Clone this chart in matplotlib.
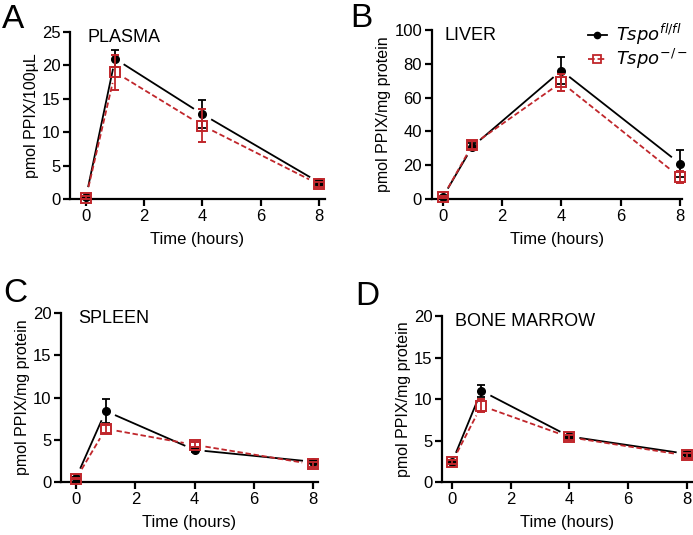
import numpy as np
import matplotlib.pyplot as plt

# time points (hours)
hours = [0, 1, 4, 8]

# PLASMA (pmol PPIX/100uL)
plasma_fl = [0.3, 21.0, 12.7, 2.5]
plasma_fl_err = [0.2, 1.3, 2.1, 0.4]
plasma_ko = [0.2, 19.0, 11.0, 2.2]
plasma_ko_err = [0.2, 2.6, 2.5, 0.4]

# LIVER (pmol PPIX/mg protein)
liver_fl = [1.0, 31.0, 76.0, 21.0]
liver_fl_err = [0.5, 2.0, 8.0, 8.0]
liver_ko = [1.0, 32.0, 69.0, 13.0]
liver_ko_err = [0.5, 2.5, 5.0, 3.5]

# SPLEEN
spleen_fl = [0.5, 8.4, 3.8, 2.4]
spleen_fl_err = [0.1, 1.4, 0.2, 0.2]
spleen_ko = [0.4, 6.3, 4.4, 2.1]
spleen_ko_err = [0.1, 0.5, 0.3, 0.3]

# BONE MARROW
marrow_fl = [2.4, 11.0, 5.5, 3.4]
marrow_fl_err = [0.2, 0.7, 0.2, 0.2]
marrow_ko = [2.4, 9.2, 5.4, 3.2]
marrow_ko_err = [0.2, 0.8, 0.3, 0.3]

RED = "#c0262b"
plt.rcParams['font.family'] = ['Liberation Sans', 'DejaVu Sans']
fig = plt.figure(figsize=(6.93, 5.35), dpi=100)


def gapped_line(ax, x, y, color, ls, gap=11):
    # draw segments between points, leaving a pixel gap near each marker
    pts = ax.transData.transform(np.column_stack([x, y]))
    inv = ax.transData.inverted()
    for i in range(len(pts) - 1):
        p0, p1 = pts[i], pts[i + 1]
        d = p1 - p0
        n = np.hypot(*d)
        a = p0 + d / n * gap
        b = p1 - d / n * gap
        seg = inv.transform(np.vstack([a, b]))
        ax.plot(seg[:, 0], seg[:, 1], color=color, ls=ls, lw=1.3, clip_on=False)


panels = [
    ("A", "PLASMA", "pmol PPIX/100µL", [0.101, 0.628, 0.368, 0.312], (-0.55, 8.21), 25, 5,
     (0.003, 0.964), 0.07, plasma_fl, plasma_fl_err, plasma_ko, plasma_ko_err),
    ("B", "LIVER", "pmol PPIX/mg protein", [0.623, 0.628, 0.361, 0.316], (-0.37, 8.07), 100, 20,
     (0.505, 0.966), 0.05, liver_fl, liver_fl_err, liver_ko, liver_ko_err),
    ("C", "SPLEEN", "pmol PPIX/mg protein", [0.088, 0.099, 0.371, 0.316], (-0.51, 8.17), 20, 5,
     (0.005, 0.452), 0.066, spleen_fl, spleen_fl_err, spleen_ko, spleen_ko_err),
    ("D", "BONE MARROW", "pmol PPIX/mg protein", [0.638, 0.099, 0.36, 0.310], (-0.34, 8.17), 20, 5,
     (0.512, 0.445), 0.05, marrow_fl, marrow_fl_err, marrow_ko, marrow_ko_err),
]

for letter, title, ylabel, pos, xlim, ymax, ystep, lpos, tx, fl, fl_err, ko, ko_err in panels:
    ax = fig.add_axes(pos)
    ax.set_xlim(*xlim)
    ax.set_ylim(0, ymax)
    ax.spines['top'].set_visible(False)
    ax.spines['right'].set_visible(False)
    ax.spines['left'].set_linewidth(1.6)
    ax.spines['bottom'].set_linewidth(1.6)
    ax.set_xticks([0, 2, 4, 6, 8])
    ax.set_yticks(np.arange(0, ymax + 1, ystep))
    ax.tick_params(width=1.6, length=5, labelsize=12, pad=2)
    ax.set_xlabel("Time (hours)", fontsize=12, labelpad=6)
    ax.set_ylabel(ylabel, fontsize=11.5, labelpad=2)
    ax.text(tx, 1.02, title, transform=ax.transAxes, fontsize=13, va="top")

    gapped_line(ax, hours, fl, "black", "-")
    gapped_line(ax, hours, ko, RED, (0, (3, 1.5)))
    ax.errorbar(hours, fl, yerr=fl_err, fmt="o", color="black", ms=5.5, capsize=3,
                elinewidth=1.3, capthick=1.3, clip_on=False, zorder=3)
    ax.errorbar(hours, ko, yerr=ko_err, fmt="s", color=RED, mfc="none", mec=RED, mew=1.4,
                ms=7.5, capsize=3, elinewidth=1.3, capthick=1.3, clip_on=False, zorder=4)

    fig.text(lpos[0], lpos[1], letter, fontsize=24, va="center", ha="left")

    if letter == "B":
        h1, = ax.plot([], [], "-o", color="black", ms=4.5, lw=1.3)
        h2, = ax.plot([], [], "--s", color=RED, mfc="none", mec=RED, mew=1.3, ms=5.5, lw=1.3)
        ax.legend([h1, h2], [r"$\mathit{Tspo}^{\mathit{fl/fl}}$", r"$\mathit{Tspo}^{-/-}$"],
                  loc="upper right", bbox_to_anchor=(1.07, 1.11), frameon=False,
                  fontsize=13, handlelength=1.1, handletextpad=0.5, labelspacing=0.0,
                  borderaxespad=0.2)

fig.savefig("out.png", dpi=100)
